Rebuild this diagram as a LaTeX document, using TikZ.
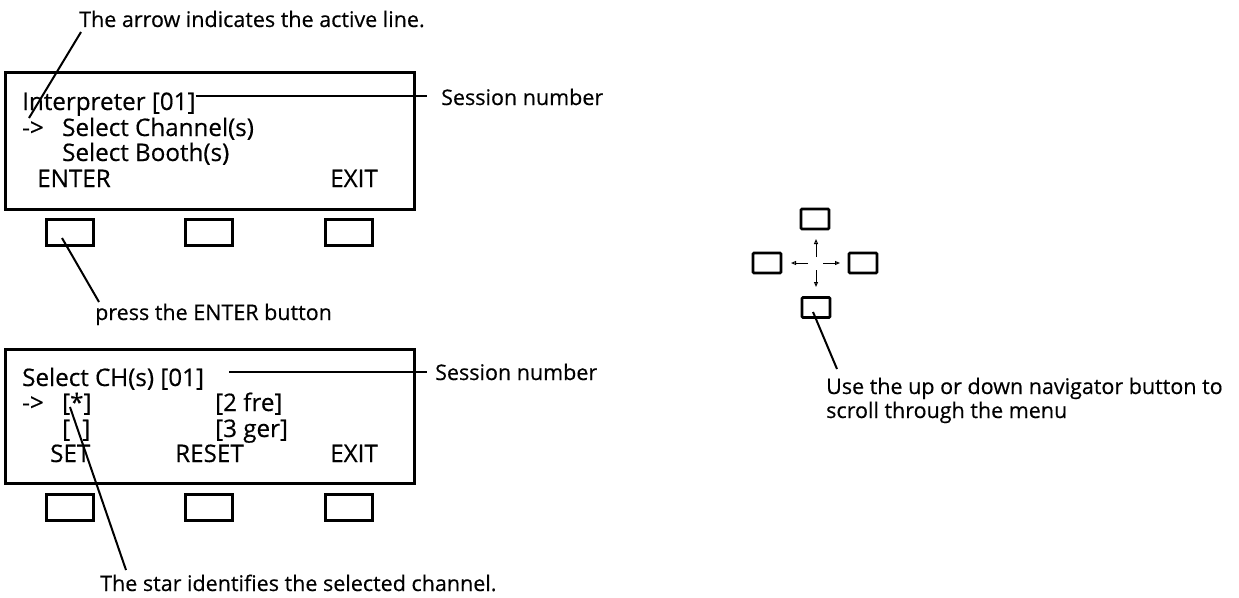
\documentclass[tikz,border=0pt]{standalone}
\usepackage{fontspec}
\setmainfont{Open Sans}[FakeBold=0.4]
\usetikzlibrary{arrows.meta,calc}
\begin{document}
\begin{tikzpicture}[x=1pt,y=-1pt,
  screen/.style={draw, line width=3pt, minimum width=409pt, minimum height=137pt, inner sep=0pt},
  btn/.style={draw, line width=3pt, minimum width=47pt, minimum height=26pt, inner sep=0pt},
  nbtn/.style={draw, line width=2.7pt, rounded corners=1pt, minimum width=28pt, minimum height=20pt, inner sep=0pt},
  big/.style={font=\fontsize{24.2}{30}\selectfont, anchor=base west, inner sep=0pt},
  small/.style={font=\fontsize{21.5}{26}\selectfont, anchor=base west, inner sep=0pt},
  lead/.style={line width=2pt},
  sline/.style={line width=2.3pt},
  navarr/.style={line width=1pt, -{Triangle[open,length=5pt,width=4pt]}}]
\useasboundingbox (0,0) rectangle (1239,597);

% ---------- top screen ----------
\node[screen] (s1) at (209.5,140.5) {};
\node[btn] (b1) at (69.5,232) {};
\node[btn] (b2) at (208.5,232) {};
\node[btn] (b3) at (348.5,232) {};

\node[big] (l1) at (22,110) {Interpreter [01]};
\node[big] (a1) at (22,136) {->};
\node[big] (l2) at (62,136) {Select Channel(s)};
\node[big] (l3) at (62,161) {Select Booth(s)};
\node[big] (k1) at (37,187) {ENTER};
\node[big] (k3) at (330,187) {EXIT};

\node[small] (tA) at (79,27) {The arrow indicates the active line.};
\coordinate (tAs) at (81,32);
\coordinate (tAe) at (29,118);
\draw[lead] (tAs) -- (tAe);

\node[small] (sn1) at (441,105) {Session number};
\coordinate (sn1e) at (427,96);
\draw[sline] (l1.east |- sn1e) -- (sn1e);

\node[small] (pe) at (95,320) {press the ENTER button};
\coordinate (pes) at (62,238);
\coordinate (pee) at (99,302);
\draw[lead] (pes) -- (pee);

% ---------- bottom screen ----------
\node[screen, minimum height=134pt] (s2) at (209.5,416) {};
\node[btn] (c1) at (69.5,507.5) {};
\node[btn] (c2) at (208.5,507.5) {};
\node[btn] (c3) at (348.5,507.5) {};

\node[big] (m1) at (22,386) {Select CH(s) [01]};
\node[big] (a2) at (22,411) {->};
\node[big] (st) at (62,411) {[*]};
\node[big] (em) at (62,437) {[\enspace]};
\node[big] (fr) at (215,411) {[2 fre]};
\node[big] (ge) at (215,437) {[3 ger]};
\node[big] (set) at (50,462) {SET};
\node[big] (rst) at (175,462) {RESET};
\node[big] (ex2) at (330,462) {EXIT};

\node[small] (sn2) at (435,380) {Session number};
\coordinate (sn2s) at (229,372);
\coordinate (sn2e) at (427,372);
\draw[sline] (sn2s) -- (sn2e);

\node[small] (ts) at (100,591) {The star identifies the selected channel.};
\coordinate (tss) at (70,407);
\coordinate (tse) at (126,570);
\draw[lead] (tss) -- (tse);

% ---------- navigator ----------
\node[nbtn] (nu) at (815,219) {};
\node[nbtn] (nl) at (767,263) {};
\node[nbtn] (nr) at (863,263) {};
\node[nbtn] (nd) at (816,307.5) {};
\coordinate (nc) at (816,263);
\draw[navarr] ($(nc)+(0,-6)$) -- ($(nc)+(0,-24)$);
\draw[navarr] ($(nc)+(-8,0)$) -- ($(nc)+(-25,0)$);
\draw[navarr] ($(nc)+(7,0)$) -- ($(nc)+(24,0)$);
\draw[navarr] ($(nc)+(0,7)$) -- ($(nc)+(0,24)$);

\node[small] (nv1) at (826,394) {Use the up or down navigator button to};
\node[small] (nv2) at (826,418) {scroll through the menu};
\coordinate (nvs) at (813,312);
\coordinate (nve) at (837,369);
\draw[lead] (nvs) -- (nve);
\end{tikzpicture}
\end{document}
